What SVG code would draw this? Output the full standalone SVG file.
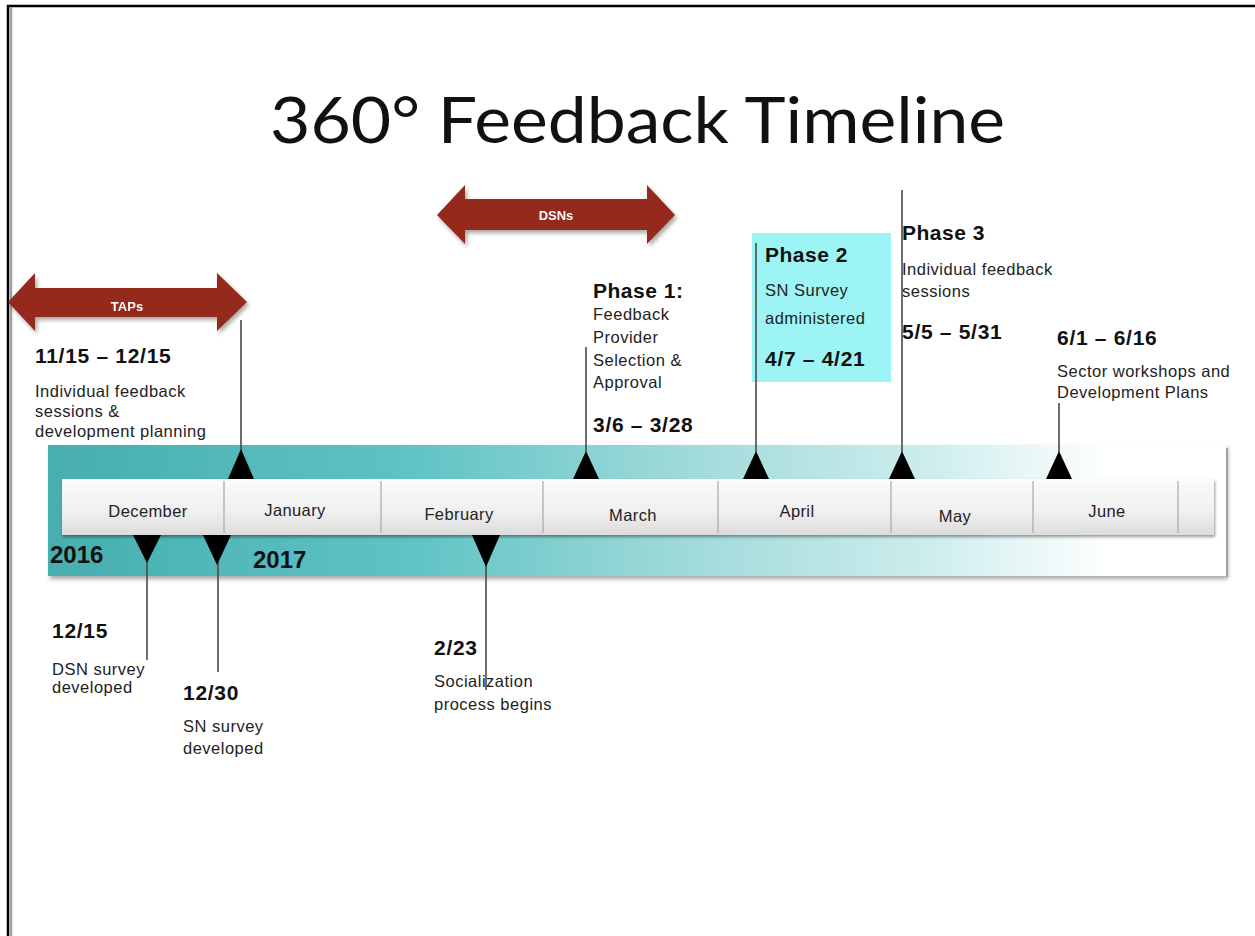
<svg xmlns="http://www.w3.org/2000/svg" width="1255" height="936" viewBox="0 0 1255 936">
  <style>
    .title { font-family: Lato, "Open Sans", "Liberation Sans", sans-serif; font-size: 64px; fill: #111; }
    .hd { font-family: "Liberation Sans", Arial, sans-serif; font-weight: bold; font-size: 21px; fill: #111; letter-spacing: 0.5px; }
    .dt { font-family: "Liberation Sans", Arial, sans-serif; font-weight: bold; font-size: 21px; fill: #111; letter-spacing: 0.7px; }
    .tx { font-family: "Liberation Sans", Arial, sans-serif; font-size: 16.5px; fill: #222; letter-spacing: 0.5px; }
    .mo { font-family: "Liberation Sans", Arial, sans-serif; font-size: 16.5px; fill: #222; letter-spacing: 0.4px; text-anchor: middle; }
    .yr { font-family: "Liberation Sans", Arial, sans-serif; font-weight: bold; font-size: 24px; fill: #111; }
    .ar { font-family: "Liberation Sans", Arial, sans-serif; font-weight: bold; font-size: 13px; fill: #fff; text-anchor: middle; }
    .stem { stroke: #4a4a4a; stroke-width: 1.6; fill: none; }
    .tri { fill: #000; }
    .div { stroke: #a8a8a8; stroke-width: 1.2; }
    .band-arrow { fill: #952a1b; }
  </style>
  <defs>
    <linearGradient id="bandFill" x1="48" y1="0" x2="1226" y2="0" gradientUnits="userSpaceOnUse">
      <stop offset="0" stop-color="#47aeb0"/>
      <stop offset="0.3" stop-color="#5ec2c3"/>
      <stop offset="0.55" stop-color="#a2dbdb"/>
      <stop offset="0.75" stop-color="#cdeded"/>
      <stop offset="0.9" stop-color="#ffffff"/>
      <stop offset="1" stop-color="#ffffff"/>
    </linearGradient>
    <linearGradient id="barFill" x1="0" y1="479" x2="0" y2="535" gradientUnits="userSpaceOnUse">
      <stop offset="0" stop-color="#fbfbfb"/>
      <stop offset="0.6" stop-color="#efefef"/>
      <stop offset="1" stop-color="#dcdcdc"/>
    </linearGradient>
    <filter id="shadow" x="-5%" y="-20%" width="110%" height="150%">
      <feDropShadow dx="2" dy="3" stdDeviation="2" flood-color="#000" flood-opacity="0.35"/>
    </filter>
    <filter id="barShadow" x="-2%" y="-20%" width="104%" height="150%">
      <feDropShadow dx="1" dy="2" stdDeviation="1.5" flood-color="#000" flood-opacity="0.4"/>
    </filter>
  </defs>

  <rect width="1255" height="936" fill="#fff"/>

  <!-- page frame -->
  <line x1="7" y1="6" x2="1255" y2="6" stroke="#000" stroke-width="2.5"/>
  <line x1="8" y1="5" x2="8" y2="936" stroke="#000" stroke-width="2.5"/>
  <line x1="11" y1="7" x2="11" y2="936" stroke="#9aa0a8" stroke-width="2.5"/>

  <text class="title" x="270" y="143" textLength="735" lengthAdjust="spacingAndGlyphs">360° Feedback Timeline</text>

  <!-- timeline band and months -->
  <g id="timeline">
    <rect x="48" y="445" width="1178" height="131" fill="url(#bandFill)" filter="url(#shadow)"/>
    <line x1="1227" y1="448" x2="1227" y2="577" stroke="#a0a0a0" stroke-width="2"/>
    <rect x="62" y="479" width="1152" height="56" fill="url(#barFill)" filter="url(#barShadow)"/>
    <g class="div">
      <line x1="224" y1="481" x2="224" y2="533"/>
      <line x1="381" y1="481" x2="381" y2="533"/>
      <line x1="543" y1="481" x2="543" y2="533"/>
      <line x1="718" y1="481" x2="718" y2="533"/>
      <line x1="891" y1="481" x2="891" y2="533"/>
      <line x1="1033" y1="481" x2="1033" y2="533"/>
      <line x1="1178" y1="481" x2="1178" y2="533"/>
    </g>
    <text class="mo" x="148" y="517">December</text>
    <text class="mo" x="295" y="516">January</text>
    <text class="mo" x="459" y="520">February</text>
    <text class="mo" x="633" y="521">March</text>
    <text class="mo" x="797" y="517">April</text>
    <text class="mo" x="955" y="522">May</text>
    <text class="mo" x="1107" y="517">June</text>
    <text class="yr" x="50" y="563">2016</text>
    <text class="yr" x="253" y="568">2017</text>
  </g>

  <!-- period arrows -->
  <g id="taps" filter="url(#shadow)">
    <polygon class="band-arrow" points="8,302 35,273 35,288 217,288 217,273 247,302 217,331 217,317 35,317 35,331"/>
    <text class="ar" x="127" y="311">TAPs</text>
  </g>
  <g id="dsns" filter="url(#shadow)">
    <polygon class="band-arrow" points="437,215 465,185 465,199 647,199 647,185 675,215 647,244 647,230 465,230 465,244"/>
    <text class="ar" x="556" y="220">DSNs</text>
  </g>

  <!-- highlight behind phase 2 -->
  <rect id="phase2-bg" x="752" y="233" width="139" height="149" fill="#9cf4f4"/>

  <!-- connectors: stems and markers -->
  <g id="connectors">
    <line class="stem" x1="241" y1="320" x2="241" y2="452"/>
    <line class="stem" x1="586" y1="347" x2="586" y2="452"/>
    <line class="stem" x1="756" y1="243" x2="756" y2="452"/>
    <line class="stem" x1="902" y1="190" x2="902" y2="452"/>
    <line class="stem" x1="1059" y1="403" x2="1059" y2="452"/>
    <line class="stem" x1="147" y1="560" x2="147" y2="660"/>
    <line class="stem" x1="218" y1="560" x2="218" y2="672"/>
    <line class="stem" x1="486" y1="562" x2="486" y2="690"/>
    <polygon class="tri" points="228,479 254,479 241,449"/>
    <polygon class="tri" points="573,479 599,479 586,451"/>
    <polygon class="tri" points="743,479 769,479 756,451"/>
    <polygon class="tri" points="889,479 915,479 902,451"/>
    <polygon class="tri" points="1046,479 1072,479 1059,451"/>
    <polygon class="tri" points="133,535 161,535 147,563"/>
    <polygon class="tri" points="203,535 231,535 217,565"/>
    <polygon class="tri" points="472,535 500,535 486,567"/>
  </g>

  <!-- events above the line -->
  <g id="tap-sessions">
    <text class="dt" x="35" y="363">11/15 – 12/15</text>
    <text class="tx" x="35" y="397">Individual feedback</text>
    <text class="tx" x="35" y="417">sessions &amp;</text>
    <text class="tx" x="35" y="437">development planning</text>
  </g>
  <g id="phase1">
    <text class="hd" x="593" y="298">Phase 1:</text>
    <text class="tx" x="593" y="320">Feedback</text>
    <text class="tx" x="593" y="343">Provider</text>
    <text class="tx" x="593" y="366">Selection &amp;</text>
    <text class="tx" x="593" y="388">Approval</text>
    <text class="dt" x="593" y="432">3/6 – 3/28</text>
  </g>
  <g id="phase2">
    <text class="hd" x="765" y="262">Phase 2</text>
    <text class="tx" x="765" y="296">SN Survey</text>
    <text class="tx" x="765" y="324">administered</text>
    <text class="dt" x="765" y="366">4/7 – 4/21</text>
  </g>
  <g id="phase3">
    <text class="hd" x="902" y="240">Phase 3</text>
    <text class="tx" x="902" y="275">Individual feedback</text>
    <text class="tx" x="902" y="297">sessions</text>
    <text class="dt" x="902" y="339">5/5 – 5/31</text>
  </g>
  <g id="workshops">
    <text class="dt" x="1057" y="345">6/1 – 6/16</text>
    <text class="tx" x="1057" y="377">Sector workshops and</text>
    <text class="tx" x="1057" y="398">Development Plans</text>
  </g>

  <!-- events below the line -->
  <g id="dsn-survey">
    <text class="dt" x="52" y="638">12/15</text>
    <text class="tx" x="52" y="675">DSN survey</text>
    <text class="tx" x="52" y="693">developed</text>
  </g>
  <g id="sn-survey">
    <text class="dt" x="183" y="700">12/30</text>
    <text class="tx" x="183" y="732">SN survey</text>
    <text class="tx" x="183" y="754">developed</text>
  </g>
  <g id="socialization">
    <text class="dt" x="434" y="655">2/23</text>
    <text class="tx" x="434" y="687">Socialization</text>
    <text class="tx" x="434" y="710">process begins</text>
  </g>
</svg>
